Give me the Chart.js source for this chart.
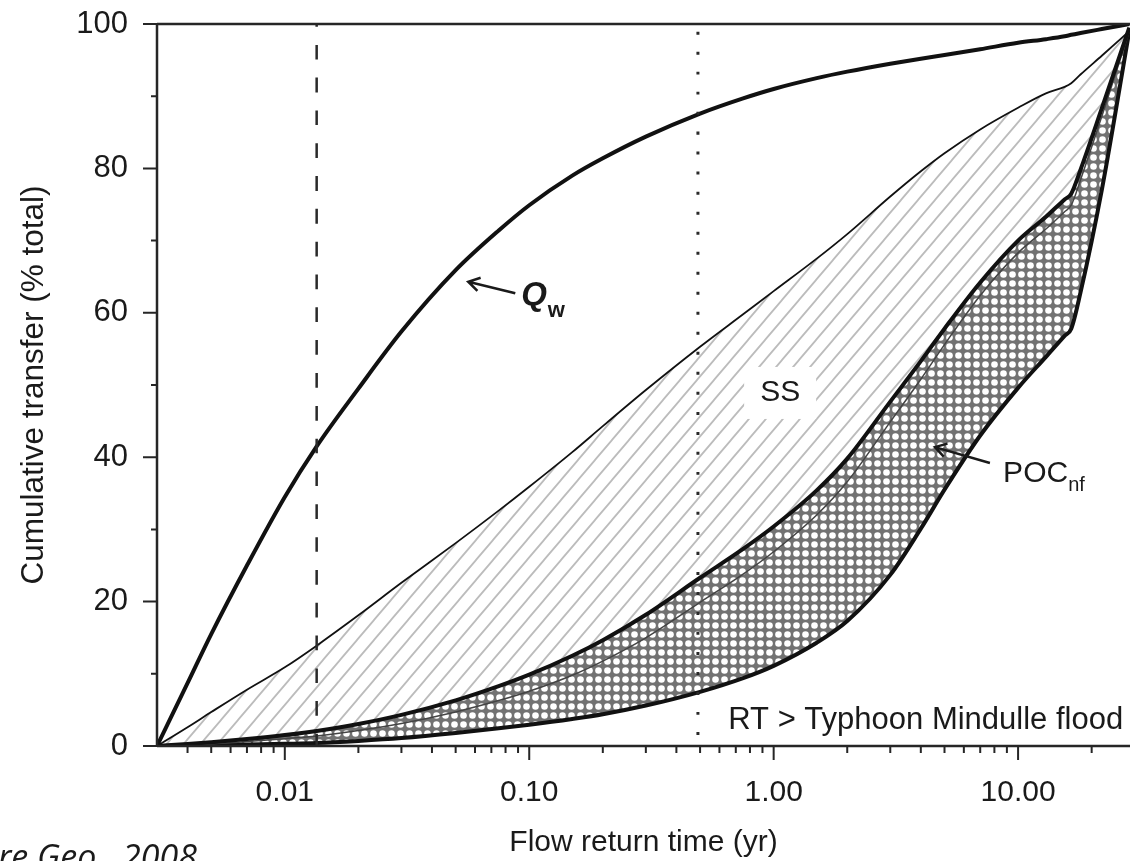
<!DOCTYPE html>
<html>
<head>
<meta charset="utf-8">
<script src="https://cdn.jsdelivr.net/npm/chart.js@4.4.1/dist/chart.umd.min.js"></script>
<style>
  html, body { margin: 0; padding: 0; background: #fff; }
  #wrap { width: 1130px; height: 861px; overflow: hidden; }
</style>
</head>
<body>
<div id="wrap"><canvas id="transferChart" width="1130" height="861"></canvas></div>
<script>
// flow return time (yr), shared by every curve
const returnTimes = [0.003, 0.004, 0.005, 0.007, 0.01, 0.0135, 0.02, 0.03, 0.05, 0.075, 0.1, 0.15, 0.2, 0.3, 0.5, 0.75, 1, 1.5, 2, 3, 4, 5, 7, 10, 13, 15.5, 16.5, 18, 22, 28.5];

// cumulative transfer (% total)
const qwValues = [0, 8.7, 15.5, 25.0, 34.5, 41.5, 49.5, 57.4, 65.9, 71.4, 74.9, 79.0, 81.4, 84.4, 87.6, 89.7, 91.0, 92.5, 93.4, 94.5, 95.2, 95.7, 96.5, 97.4, 97.9, 98.3, 98.5, 98.75, 99.3, 100];
const ssValues = [0, 2.6, 4.7, 7.8, 10.9, 13.9, 18.1, 22.6, 28.1, 32.6, 35.9, 40.7, 44.3, 49.3, 55.3, 59.8, 63.0, 67.5, 70.9, 76.1, 79.6, 82.1, 85.4, 88.4, 90.4, 91.3, 91.8, 93.0, 95.6, 99.0];
const pocUpper = [0, 0.28, 0.53, 0.96, 1.51, 2.09, 3.05, 4.31, 6.32, 8.29, 9.88, 12.5, 14.66, 18.18, 23.3, 27.3, 30.4, 35.4, 39.8, 47.7, 53.3, 57.8, 64.2, 70.0, 73.3, 75.7, 76.5, 79.8, 88.3, 99.5];
const pocMiddle = [0, 0.13, 0.28, 0.61, 1.01, 1.39, 2.15, 3.11, 4.72, 6.29, 7.58, 9.8, 11.76, 14.98, 19.9, 23.8, 26.9, 32.0, 36.6, 44.9, 50.8, 55.6, 62.4, 68.3, 71.6, 74.0, 74.9, 78.4, 87.2, 99.0];
const pocLower = [0, 0.05, 0.1, 0.2, 0.3, 0.4, 0.7, 1.1, 1.8, 2.45, 2.95, 3.75, 4.4, 5.6, 7.5, 9.4, 11.1, 14.3, 17.3, 23.7, 30.1, 35.5, 43.0, 49.6, 53.9, 56.8, 57.8, 62.8, 77.0, 99.0];

// vertical reference lines (return time, yr)
const dashedLineAt = 0.0135;
const dottedLineAt = 0.49;

// axis ticks
const xMajorTicks = [0.01, 0.1, 1, 10];
const xMinorTicks = [0.004, 0.005, 0.006, 0.007, 0.008, 0.009,
  0.02, 0.03, 0.04, 0.05, 0.06, 0.07, 0.08, 0.09,
  0.2, 0.3, 0.4, 0.5, 0.6, 0.7, 0.8, 0.9,
  2, 3, 4, 5, 6, 7, 8, 9, 20];
const yMajorTicks = [0, 20, 40, 60, 80, 100];
const yMinorTicks = [10, 30, 50, 70, 90];

const FONT = "'Liberation Sans', Arial, Helvetica, sans-serif";
const INK = "#1a1a1a";

Chart.defaults.font.family = FONT;
Chart.defaults.color = INK;

function toPoints(values) {
  return returnTimes.map((t, i) => ({ x: t, y: values[i] }));
}

function verticalLine(t) {
  return [{ x: t, y: 100 }, { x: t, y: 0 }];
}

// diagonal hatch for SS
function makeHatch() {
  const w = 17, h = 20;
  const c = document.createElement("canvas");
  c.width = w; c.height = h;
  const g = c.getContext("2d");
  g.strokeStyle = "#bcbcbc";
  g.lineWidth = 1.8;
  g.beginPath();
  g.moveTo(-w / 2, h / 2); g.lineTo(w / 2, -h / 2);
  g.moveTo(0, h); g.lineTo(w, 0);
  g.moveTo(w / 2, 1.5 * h); g.lineTo(1.5 * w, h / 2);
  g.stroke();
  return g.createPattern(c, "repeat");
}

// dotted cross-hatch for POC
function makeCrossHatch() {
  const s = 9;
  const c = document.createElement("canvas");
  c.width = s; c.height = s;
  const g = c.getContext("2d");
  g.fillStyle = "#727272";
  g.fillRect(0, 0, s, s);
  g.fillStyle = "#ffffff";
  g.beginPath();
  g.arc(s / 2, s / 2, 3.3, 0, Math.PI * 2);
  g.fill();
  return g.createPattern(c, "repeat");
}

const whiteBackground = {
  id: "whiteBackground",
  beforeDraw(chart) {
    const ctx = chart.ctx;
    ctx.save();
    ctx.fillStyle = "#fff";
    ctx.fillRect(0, 0, chart.width, chart.height);
    ctx.restore();
  }
};

// frame and tick marks (major ticks longer than minor ones)
const axisFrame = {
  id: "axisFrame",
  afterDatasetsDraw(chart) {
    const { ctx, chartArea, scales: { x, y } } = chart;
    const { left, right, top, bottom } = chartArea;
    ctx.save();
    ctx.strokeStyle = "#262626";
    ctx.lineWidth = 2.5;
    ctx.beginPath();
    ctx.moveTo(left, top); ctx.lineTo(right, top);
    ctx.moveTo(left, top); ctx.lineTo(left, bottom);
    ctx.moveTo(left, bottom); ctx.lineTo(right, bottom);
    ctx.stroke();

    ctx.lineWidth = 2;
    ctx.beginPath();
    xMajorTicks.forEach((v) => {
      const px = x.getPixelForValue(v);
      ctx.moveTo(px, bottom); ctx.lineTo(px, bottom + 14);
    });
    xMinorTicks.forEach((v) => {
      const px = x.getPixelForValue(v);
      ctx.moveTo(px, bottom); ctx.lineTo(px, bottom + 7);
    });
    yMajorTicks.forEach((v) => {
      const py = y.getPixelForValue(v);
      ctx.moveTo(left, py); ctx.lineTo(left - 14, py);
    });
    yMinorTicks.forEach((v) => {
      const py = y.getPixelForValue(v);
      ctx.moveTo(left, py); ctx.lineTo(left - 6, py);
    });
    ctx.stroke();
    ctx.restore();
  }
};

function drawArrow(ctx, x0, y0, x1, y1) {
  const a = Math.atan2(y1 - y0, x1 - x0);
  const len = 13, spread = 0.55;
  ctx.beginPath();
  ctx.moveTo(x0, y0); ctx.lineTo(x1, y1);
  ctx.moveTo(x1 - len * Math.cos(a - spread), y1 - len * Math.sin(a - spread));
  ctx.lineTo(x1, y1);
  ctx.lineTo(x1 - len * Math.cos(a + spread), y1 - len * Math.sin(a + spread));
  ctx.stroke();
}

// labels, arrows and the source note
const figureNotes = {
  id: "figureNotes",
  afterDatasetsDraw(chart) {
    const { ctx, scales: { x, y } } = chart;
    const X = (t) => x.getPixelForValue(t);
    const Y = (v) => y.getPixelForValue(v);
    ctx.save();
    ctx.fillStyle = INK;
    ctx.strokeStyle = INK;
    ctx.lineWidth = 2.5;
    ctx.textBaseline = "alphabetic";

    // Q_w
    drawArrow(ctx, X(0.0877), Y(62.7), X(0.0563), Y(64.3));
    ctx.font = "italic bold 33px " + FONT;
    ctx.fillText("Q", X(0.0927), Y(61.1));
    const qW = ctx.measureText("Q").width;
    ctx.font = "bold 22px " + FONT;
    ctx.fillText("w", X(0.0927) + qW + 1, Y(61.1) + 12);

    // SS, on a white patch
    const sx = X(1.063), sy = Y(48.9);
    ctx.fillStyle = "#fff";
    ctx.fillRect(sx - 36, sy - 26, 72, 52);
    ctx.fillStyle = INK;
    ctx.font = "30px " + FONT;
    ctx.textAlign = "center";
    ctx.textBaseline = "middle";
    ctx.fillText("SS", sx, sy);

    // POC_nf
    ctx.textAlign = "left";
    ctx.textBaseline = "alphabetic";
    drawArrow(ctx, X(7.67), Y(39.2), X(4.57), Y(41.4));
    ctx.font = "30px " + FONT;
    ctx.fillText("POC", X(8.685), Y(36.6));
    const pW = ctx.measureText("POC").width;
    ctx.font = "20px " + FONT;
    ctx.fillText("nf", X(8.685) + pW, Y(36.6) + 9);

    // return-time note
    ctx.font = "31px " + FONT;
    ctx.fillText("RT > Typhoon Mindulle flood", X(0.652), Y(2.3));

    // source, cut by the page edge
    ctx.font = "italic 34px 'Open Sans', 'DejaVu Sans', sans-serif";
    ctx.textAlign = "right";
    ctx.fillText("Nature Geo., 2008", 197, 869);
    ctx.restore();
  }
};

const lineBase = {
  pointRadius: 0,
  borderColor: "#111",
  cubicInterpolationMode: "monotone",
  fill: false
};

const ctx = document.getElementById("transferChart").getContext("2d");

new Chart(ctx, {
  type: "line",
  data: {
    datasets: [
      { ...lineBase, label: "Qw", data: toPoints(qwValues), borderWidth: 4 },
      { ...lineBase, label: "SS", data: toPoints(ssValues), borderWidth: 1.8,
        fill: { target: 2 }, backgroundColor: makeHatch() },
      { ...lineBase, label: "POC upper", data: toPoints(pocUpper), borderWidth: 4,
        fill: { target: 4 }, backgroundColor: makeCrossHatch() },
      { ...lineBase, label: "POC middle", data: toPoints(pocMiddle), borderWidth: 1.5,
        borderColor: "#444" },
      { ...lineBase, label: "POC lower", data: toPoints(pocLower), borderWidth: 4 },
      { ...lineBase, label: "dashed", data: verticalLine(dashedLineAt), borderWidth: 2.5,
        borderColor: "#2a2a2a", borderDash: [14.7, 18.1], borderDashOffset: 11.8, order: -1 },
      { ...lineBase, label: "dotted", data: verticalLine(dottedLineAt), borderWidth: 3,
        borderColor: "#2a2a2a", borderDash: [3, 17], borderDashOffset: 12.2, order: -1 }
    ]
  },
  options: {
    responsive: false,
    animation: false,
    devicePixelRatio: 1,
    layout: { padding: { top: 24, right: 0, bottom: 0, left: 0 } },
    plugins: {
      legend: { display: false },
      tooltip: { enabled: false },
      filler: { drawTime: "beforeDatasetsDraw" }
    },
    scales: {
      x: {
        type: "logarithmic",
        min: 0.003,
        max: 28.7,
        afterBuildTicks: (s) => { s.ticks = xMajorTicks.map((v) => ({ value: v })); },
        afterFit: (s) => { s.height = 115; s.paddingLeft = 0; s.paddingRight = 0; },
        grid: { display: false, drawTicks: false },
        border: { display: false },
        ticks: {
          autoSkip: false,
          maxRotation: 0,
          padding: 29,
          font: { size: 30 },
          callback: (v) => Number(v).toFixed(2)
        },
        title: {
          display: true,
          text: "Flow return time (yr)",
          font: { size: 30 },
          padding: { top: 0, bottom: 0 }
        }
      },
      y: {
        min: 0,
        max: 100,
        afterBuildTicks: (s) => { s.ticks = yMajorTicks.map((v) => ({ value: v })); },
        afterFit: (s) => { s.width = 157; s.paddingTop = 0; s.paddingBottom = 0; },
        grid: { display: false, drawTicks: false },
        border: { display: false },
        ticks: { padding: 29, font: { size: 31 } },
        title: {
          display: true,
          text: "Cumulative transfer (% total)",
          font: { size: 31.5 },
          padding: { top: 15, bottom: 0 }
        }
      }
    }
  },
  plugins: [whiteBackground, axisFrame, figureNotes]
});
</script>
</body>
</html>
